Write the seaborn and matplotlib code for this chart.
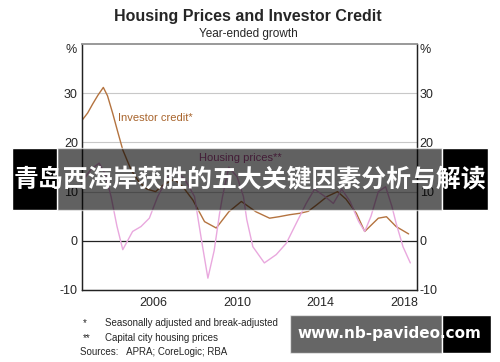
import pandas as pd
import seaborn as sns
import matplotlib.pyplot as plt
from matplotlib.patches import Rectangle

# --- data (year-ended growth, %) ---
credit_t = [2003.08, 2003.35, 2003.6, 2003.84, 2004.1, 2004.3, 2004.55, 2004.8, 2005.03,
            2005.43, 2005.8, 2006.2, 2006.6, 2007.0, 2007.5, 2007.9, 2008.38, 2008.94,
            2009.5, 2010.1, 2010.7, 2011.4, 2012.05, 2012.5, 2013.0, 2013.5, 2013.9,
            2014.3, 2014.8, 2015.3, 2015.7, 2016.2, 2016.6, 2017.25, 2017.64, 2018.1, 2018.7]
credit_v = [24.5, 26.0, 27.9, 29.6, 31.2, 29.5, 25.9, 22.0, 18.5,
            14.4, 12.0, 10.5, 10.0, 11.5, 12.5, 11.0, 8.3, 3.9,
            2.6, 5.9, 8.0, 5.9, 4.6, 4.9, 5.3, 5.6, 6.0,
            7.3, 9.0, 10.0, 8.5, 5.6, 1.9, 4.6, 4.9, 2.9, 1.4]

house_t = [2003.08, 2003.5, 2003.9, 2004.2, 2004.47, 2004.75, 2005.03, 2005.5, 2005.9,
           2006.3, 2006.7, 2007.2, 2007.6, 2008.0, 2008.46, 2008.8, 2009.1, 2009.4,
           2009.66, 2009.8, 2010.1, 2010.5, 2010.8, 2010.96, 2011.25, 2011.8, 2012.37,
           2012.85, 2013.33, 2013.8, 2014.2, 2014.7, 2015.1, 2015.5, 2015.9, 2016.3,
           2016.6, 2016.9, 2017.25, 2017.6, 2017.9, 2018.1, 2018.43, 2018.78]
house_v = [12.0, 14.5, 15.8, 13.5, 9.0, 3.0, -1.8, 1.9, 2.9,
           4.6, 9.0, 13.0, 14.0, 12.5, 9.0, 0.0, -7.6, -2.0,
           5.6, 9.0, 15.0, 13.0, 9.0, 4.3, -1.2, -4.5, -2.8,
           -0.5, 3.6, 7.6, 10.5, 9.0, 7.6, 10.5, 8.0, 4.0,
           1.9, 5.0, 10.0, 11.0, 7.0, 3.6, -1.2, -4.5]

year_ticks = list(range(2004, 2019))
year_labels = [2006, 2010, 2014, 2018]
y_ticks = [-10, 0, 10, 20, 30]

df = pd.concat([
    pd.DataFrame({"date": credit_t, "growth": credit_v, "series": "Investor credit"}),
    pd.DataFrame({"date": house_t, "growth": house_v, "series": "Housing prices"}),
], ignore_index=True)

sns.set_theme(style="white")
plt.rcParams["font.family"] = ["Liberation Sans", "DejaVu Sans"]

brown = "#b4733f"
pink = "#e9a8de"

fig = plt.figure(figsize=(5, 3.62), dpi=100)
ax = fig.add_axes([0.164, 0.199, 0.67, 0.679])

sns.lineplot(data=df, x="date", y="growth", hue="series",
             palette={"Investor credit": brown, "Housing prices": pink},
             linewidth=1.0, legend=False, ax=ax)

ax.set_xlim(2003.08, 2019.1)
ax.set_ylim(-10, 40)
ax.set_xlabel("")
ax.set_ylabel("")

# grid + zero line
for v in [10, 20, 30]:
    ax.axhline(v, color="#c8c8c8", lw=0.8, zorder=0)
ax.axhline(0, color="#222222", lw=0.9, zorder=1)

# year ticks at year boundaries, labels mid-year
ax.set_xticks(year_ticks)
ax.set_xticklabels([])
ax.set_xticks([y + 0.5 for y in year_labels], minor=True)
ax.set_xticklabels([str(y) for y in year_labels], minor=True, fontsize=9)
ax.tick_params(axis="x", which="major", direction="in", length=4, color="#222222", width=0.8)
ax.tick_params(axis="x", which="minor", length=0, pad=5)

ax.set_yticks(y_ticks)
ax.set_yticklabels([str(v) for v in y_ticks], fontsize=9)
ax.tick_params(axis="y", length=0, pad=3)
ax2 = ax.twinx()
ax2.set_ylim(ax.get_ylim())
ax2.set_yticks(y_ticks)
ax2.set_yticklabels([str(v) for v in y_ticks], fontsize=9)
ax2.tick_params(axis="y", length=0, pad=2)

for a in (ax, ax2):
    for side in ["left", "right", "bottom"]:
        a.spines[side].set_color("#222222")
        a.spines[side].set_linewidth(0.9)
    a.spines["top"].set_color("#999999")
    a.spines["top"].set_linewidth(1.2)

ax.text(-0.015, 0.975, "%", transform=ax.transAxes, ha="right", va="center", fontsize=9)
ax.text(1.008, 0.975, "%", transform=ax.transAxes, ha="left", va="center", fontsize=9)

ax.text(2004.8, 25, "Investor credit*", color="#a8642c", fontsize=8, va="center")
ax.text(2010.66, 16.8, "Housing prices**", color="#b04a90", fontsize=8, ha="center", va="center")

fig.text(0.496, 0.955, "Housing Prices and Investor Credit", ha="center", va="center",
         fontsize=11.5, fontweight="bold")
fig.text(0.496, 0.905, "Year-ended growth", ha="center", va="center", fontsize=8.5)

fig.text(0.166, 0.107, "*", fontsize=7, va="center")
fig.text(0.21, 0.107, "Seasonally adjusted and break-adjusted", fontsize=7, va="center")
fig.text(0.166, 0.066, "**", fontsize=7, va="center")
fig.text(0.21, 0.066, "Capital city housing prices", fontsize=7, va="center")
fig.text(0.16, 0.027, "Sources:   APRA; CoreLogic; RBA", fontsize=7, va="center")

# overlay banner
fig.patches.append(Rectangle((0.114, 0.42), 0.77, 0.171, transform=fig.transFigure,
                             facecolor="black", alpha=0.62, zorder=5))
fig.patches.append(Rectangle((0.024, 0.42), 0.09, 0.171, transform=fig.transFigure,
                             facecolor="black", zorder=5))
fig.patches.append(Rectangle((0.884, 0.42), 0.092, 0.171, transform=fig.transFigure,
                             facecolor="black", zorder=5))
fig.text(0.499, 0.503, "青岛西海岸获胜的五大关键因素分析与解读", ha="center", va="center",
         color="white", fontsize=17.9, fontweight="bold", zorder=6,
         family=["Noto Sans CJK SC", "DejaVu Sans"])

# bottom watermark
fig.patches.append(Rectangle((0.58, 0.025), 0.304, 0.105, transform=fig.transFigure,
                             facecolor="black", alpha=0.6, zorder=5))
fig.patches.append(Rectangle((0.884, 0.025), 0.098, 0.105, transform=fig.transFigure,
                             facecolor="black", zorder=5))
fig.text(0.778, 0.079, "www.nb-pavideo.com", ha="center", va="center", color="white",
         fontsize=11, fontweight="bold", zorder=6, family=["DejaVu Sans"])

fig.savefig("out.png", dpi=100)
plt.close()
